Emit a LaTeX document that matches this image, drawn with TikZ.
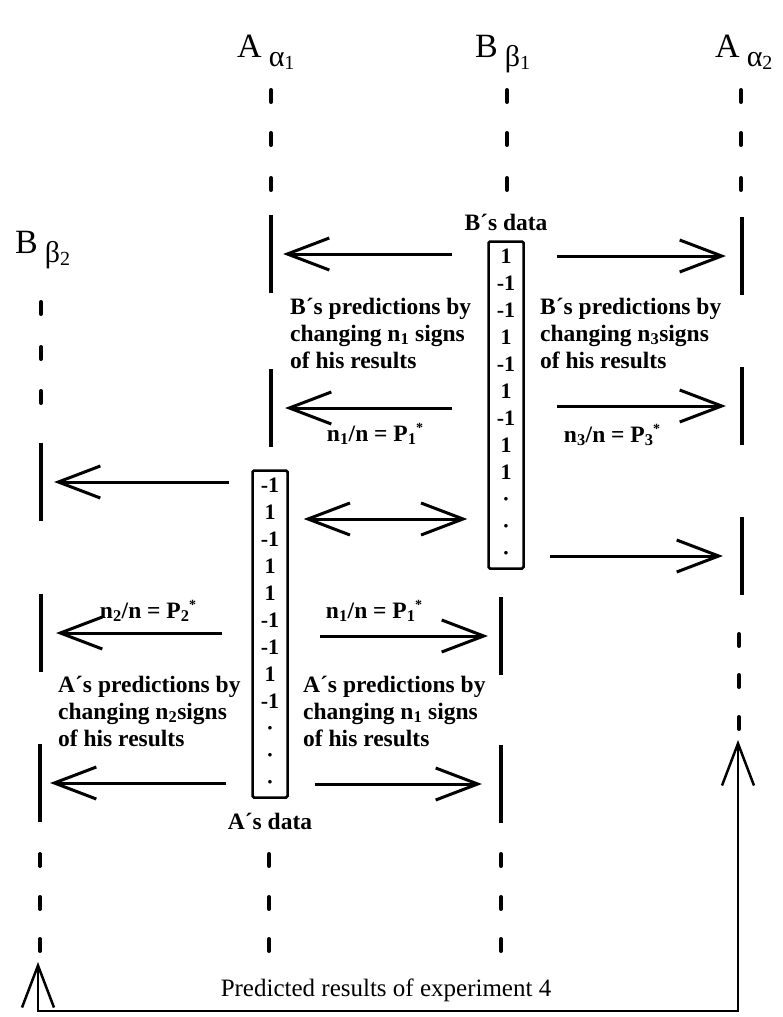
\documentclass[tikz,border=0pt]{standalone}
\usepackage{fontspec}
\setmainfont{Liberation Serif}
\usetikzlibrary{arrows.meta, positioning}

% fonts used in the figure
\newcommand{\lblfont}{\fontsize{23.5}{27}\selectfont\bfseries}
\newcommand{\boxfont}{\fontsize{22}{27}\selectfont\bfseries}
\newcommand{\hdrfont}{\fontsize{34}{40}\selectfont}
% observer name with lowered index, e.g. A alpha_1
\newcommand{\lifename}[3]{#1\hspace{7pt}\raisebox{-9pt}{\fontsize{30}{30}\selectfont #2\raisebox{-3pt}{\fontsize{20}{20}\selectfont #3}}}
% P with index and a raised star just after it
\newcommand{\Pst}[1]{P\textsubscript{#1}\kern-0.5pt\raisebox{9pt}{\fontsize{14}{14}\selectfont *}}

\begin{document}
\begin{tikzpicture}[x=1pt, y=-1pt,
  >={Straight Barb[length=42pt, width=32pt]},
  arr/.style={->, line width=3pt},
  lifebar/.style={fill=black, inner sep=0pt, minimum width=3.8pt,
                  minimum height=78pt},
  lifedash/.style={line width=4pt, line cap=round},
  databox/.style={draw, line width=2.5pt, rounded corners=1.5pt,
                  inner sep=0pt, minimum width=35pt, minimum height=327pt,
                  align=center, font=\boxfont},
  lbl/.style={font=\lblfont, inner sep=0pt},
  note/.style={lbl, align=left, anchor=west},
  hdr/.style={font=\hdrfont, inner sep=0pt, anchor=base west}
]
\useasboundingbox (0,0) rectangle (783,1017);

% ---- Observer names ----
\node[hdr] (hA1) at (237,57) {\lifename{A}{α}{1}};
\node[hdr] (hB1) at (475,57) {\lifename{B}{β}{1}};
\node[hdr] (hA2) at (715,57) {\lifename{A}{α}{2}};
\node[hdr] (hB2) at (15,253) {\lifename{B}{β}{2}};

% ---- Dotted parts of the time lines ----
\foreach \y in {96,139,184} {
  \draw[lifedash] (271,\y-6) -- (271,\y+6);
  \draw[lifedash] (507,\y-6) -- (507,\y+6);
  \draw[lifedash] (741,\y-6) -- (741,\y+6);
}
\foreach \y in {308,353,397} \draw[lifedash] (41,\y-6) -- (41,\y+6);
\foreach \y in {640,681,723} \draw[lifedash] (739,\y-6) -- (739,\y+6);
\foreach \y in {860,903,945} {
  \draw[lifedash] (40,\y-6) -- (40,\y+6);
  \draw[lifedash] (269,\y-6) -- (269,\y+6);
  \draw[lifedash] (501,\y-6) -- (501,\y+6);
}

% ---- Solid parts (where predictions arrive) ----
\node[lifebar] (A1a) at (271,254) {};
\node[lifebar] (A1b) at (271,408) {};
\node[lifebar] (A2a) at (742,256) {};
\node[lifebar] (A2b) at (742,406) {};
\node[lifebar] (A2c) at (742,556) {};
\node[lifebar] (B2a) at (41,482) {};
\node[lifebar] (B2b) at (41,633) {};
\node[lifebar] (B2c) at (40,783) {};
\node[lifebar] (B1b) at (501,636) {};
\node[lifebar] (B1c) at (501,784) {};

% ---- Data columns ----
\node[databox] (Bdata) at (506,405) {1\\-1\\-1\\1\\-1\\1\\-1\\1\\1\\·\\·\\·};
\node[lbl, above=9pt of Bdata] (bdlab) {B´s data};

\node[databox] (Adata) at (270,634) {-1\\1\\-1\\1\\1\\-1\\-1\\1\\-1\\·\\·\\·};
\node[lbl, below=14pt of Adata] (adlab) {A´s data};

% ---- B's predictions ----
\draw[arr, shorten <=35pt, shorten >=10pt] (Bdata.west |- A1a) -- (A1a.east);
\draw[arr, shorten <=35pt, shorten >=12pt] (Bdata.west |- A1b) -- (A1b.east);
\draw[arr, shorten <=32pt, shorten >=14pt] (Bdata.east |- A2a) -- (A2a.west);
\draw[arr, shorten <=32pt, shorten >=14pt] (Bdata.east |- A2b) -- (A2b.west);
\draw[arr, shorten <=25pt, shorten >=17pt] (Bdata.east |- A2c) -- (A2c.west);

\node[note] (bpl) at (290,333)
  {B´s predictions by\\changing n\textsubscript{1} signs\\of his results};
\node[note] (bpr) at (540,333)
  {B´s predictions by\\changing n\textsubscript{3}signs\\of his results};
\node[lbl] (p1u) at (375,434) {n\textsubscript{1}/n = \Pst{1}};
\node[lbl] (p3) at (612,435) {n\textsubscript{3}/n = \Pst{3}};

% ---- Exchange between A and B ----
\coordinate (swap) at (385,519);
\draw[arr, <->, shorten <=15pt, shorten >=20pt]
  (Adata.east |- swap) -- (Bdata.west |- swap);

% ---- A's predictions ----
\draw[arr, shorten <=22pt, shorten >=11pt] (Adata.west |- B2a) -- (B2a.east);
\draw[arr, shorten <=29pt, shorten >=13pt] (Adata.west |- B2b) -- (B2b.east);
\draw[arr, shorten <=25pt, shorten >=8pt] (Adata.west |- B2c) -- (B2c.east);
\draw[arr, shorten <=31pt, shorten >=11pt] (Adata.east |- B1b) -- (B1b.west);
\draw[arr, shorten <=26pt, shorten >=17pt] (Adata.east |- B1c) -- (B1c.west);

\node[lbl] (p2) at (148,611) {n\textsubscript{2}/n = \Pst{2}};
\node[lbl] (p1l) at (374,611) {n\textsubscript{1}/n = \Pst{1}};
\node[note] (apl) at (58,711)
  {A´s predictions by\\changing n\textsubscript{2}signs\\of his results};
\node[note] (apr) at (303,711)
  {A´s predictions by\\changing n\textsubscript{1} signs\\of his results};

% ---- Experiment 4 ----
\coordinate (retA) at (738,740);
\coordinate (retB) at (38,962);
\coordinate (base) at (388,1011);
\draw[arr, <->, line width=2.5pt] (retA) -- (retA |- base) -| (retB);
\node[font=\fontsize{25}{30}\selectfont, inner sep=0pt] (predlab) at (386,990)
  {Predicted results of experiment 4};

\end{tikzpicture}
\end{document}
